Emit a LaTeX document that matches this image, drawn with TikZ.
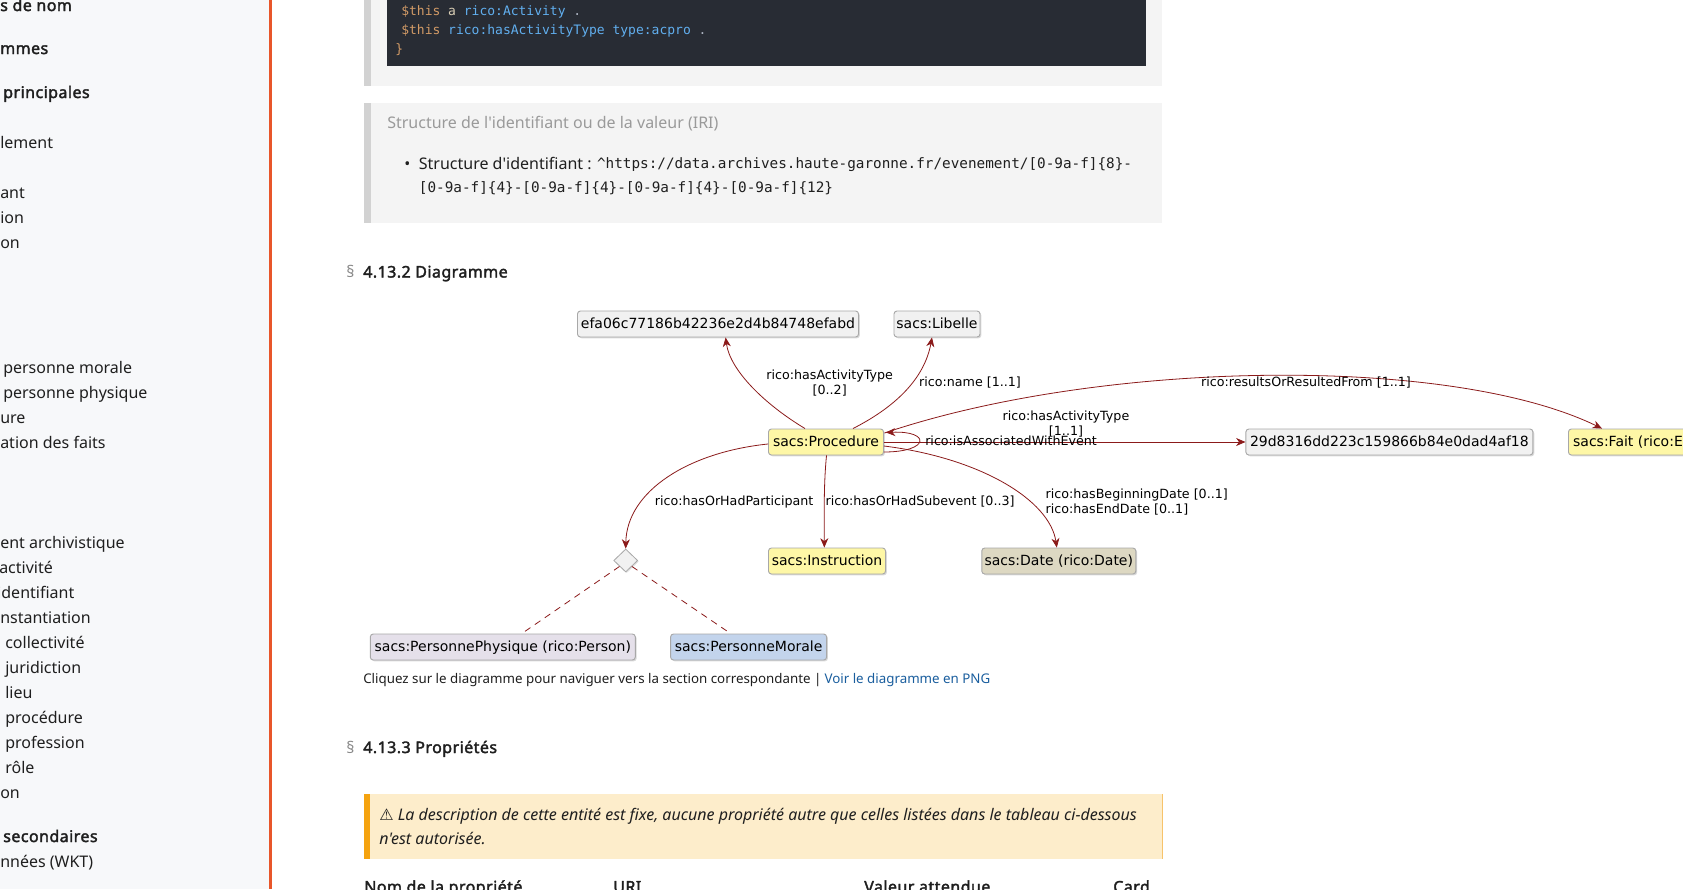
\documentclass[tikz,border=0pt]{standalone}
\usepackage{fontspec}
\setmainfont{Noto Sans}[Ligatures=TeXOff,BoldFont={Noto Sans},BoldFeatures={FakeBold=2.2,LetterSpace=2.8}]
\setmonofont{DejaVu Sans Mono}
\newfontfamily\djv{DejaVu Sans}
\usetikzlibrary{arrows.meta,calc,shapes.geometric,shadows}
\definecolor{sidebg}{HTML}{F7F8FA}
\definecolor{orangeL}{HTML}{E8562A}
\definecolor{boxbg}{HTML}{F4F4F4}
\definecolor{barcol}{HTML}{D2D2D2}
\definecolor{codebg}{HTML}{282C34}
\definecolor{cthis}{HTML}{D19A66}
\definecolor{ckw}{HTML}{D8CDB4}
\definecolor{cblue}{HTML}{61AFEF}
\definecolor{cdot}{HTML}{ABB2BF}
\definecolor{txt}{HTML}{1F1F1F}
\definecolor{graytxt}{HTML}{9A9A9A}
\definecolor{sect}{HTML}{8A8A8A}
\definecolor{linkc}{HTML}{1A5E9E}
\definecolor{warnbg}{HTML}{FDEDCB}
\definecolor{warnbar}{HTML}{F5A30F}
\definecolor{warnline}{HTML}{F7C36B}
\definecolor{nborder}{HTML}{A8A8A8}
\definecolor{gfill}{HTML}{F1F1F1}
\definecolor{yfill}{HTML}{FEF7A6}
\definecolor{dfill}{HTML}{DDD8C2}
\definecolor{pfill}{HTML}{E5E0EA}
\definecolor{mfill}{HTML}{C3D4EC}
\definecolor{edgec}{HTML}{8B1A1A}
\begin{document}
\begin{tikzpicture}[x=0.75pt,y=-0.75pt,
  sidetxt/.style={anchor=base west,inner sep=0,text=txt,font=\fontsize{12}{14}\selectfont},
  sidebold/.style={sidetxt,font=\bfseries\fontsize{12}{14}\selectfont},
  codetxt/.style={anchor=base west,inner sep=0,font=\ttfamily\fontsize{9.75}{12}\selectfont},
  bodytxt/.style={anchor=base west,inner sep=0,text=txt,font=\fontsize{12}{14}\selectfont},
  monotxt/.style={anchor=base west,inner sep=0,text=txt,font=\ttfamily\fontsize{10.75}{13}\selectfont},
  headtxt/.style={anchor=base west,inner sep=0,text=txt,font=\bfseries\fontsize{12}{14}\selectfont},
  secttxt/.style={anchor=base west,inner sep=0,text=sect,font=\fontsize{12}{14}\selectfont},
  captxt/.style={anchor=base west,inner sep=0,text=txt,font=\fontsize{10}{12}\selectfont},
  warntxt/.style={anchor=base west,inner sep=0,text=txt,font=\itshape\fontsize{12}{14}\selectfont},
  umlbox/.style={draw=nborder,line width=0.7pt,rounded corners=2.2pt,inner sep=0,
     minimum height=26*0.75pt,text height=7.9pt,text depth=0.6pt,text=black,
     font=\djv\fontsize{10.5}{12}\selectfont,
     drop shadow={shadow xshift=1pt,shadow yshift=-1pt,opacity=0.15,fill=black}},
  elabel/.style={inner sep=0,text=black,font=\djv\fontsize{9.5}{11.25}\selectfont},
  rel/.style={draw=edgec,line width=0.6pt,-{Stealth[length=7pt,width=6pt,inset=2.2pt]}},
  reldash/.style={draw=edgec,line width=0.6pt,dash pattern=on 5pt off 4pt}
]
\useasboundingbox (0,0) rectangle (1683,889);
\clip (0,0) rectangle (1683,889);
\fill[white] (0,0) rectangle (1683,889);
% sidebar
\fill[sidebg] (0,0) rectangle (269,889);
\fill[orangeL] (269,0) rectangle (271.5,889);
\node[sidebold] (s1) at (0,11) {s de nom};
\node[sidebold] (s2) at (0,54) {mmes};
\node[sidebold] (s3) at (3,98) {principales};
\node[sidetxt] (s4) at (0,148) {lement};
\node[sidetxt] (s5) at (0,198) {ant};
\node[sidetxt] (s6) at (0,223) {ion};
\node[sidetxt] (s7) at (0,248) {on};
\node[sidetxt] (s8) at (3,373) {personne morale};
\node[sidetxt] (s9) at (3,398) {personne physique};
\node[sidetxt] (s10) at (0,423) {ure};
\node[sidetxt] (s11) at (0,448) {ation des faits};
\node[sidetxt] (s12) at (0,548) {ent archivistique};
\node[sidetxt] (s13) at (-1,573) {activité};
\node[sidetxt] (s14) at (-3,598) {identifiant};
\node[sidetxt] (s15) at (0,623) {nstantiation};
\node[sidetxt] (s16) at (5,648) {collectivité};
\node[sidetxt] (s17) at (5,673) {juridiction};
\node[sidetxt] (s18) at (5,698) {lieu};
\node[sidetxt] (s19) at (5,723) {procédure};
\node[sidetxt] (s20) at (5,748) {profession};
\node[sidetxt] (s21) at (5,773) {rôle};
\node[sidetxt] (s22) at (0,798) {on};
\node[sidebold] (s23) at (3,842) {secondaires};
\node[sidetxt] (s24) at (0,867) {nnées (WKT)};
% code box
\fill[boxbg] (364,-1) rectangle (1162,86);
\fill[barcol] (364,-1) rectangle (371,86);
\fill[codebg] (387,-1) rectangle (1146,66);
\node[codetxt] (c1) at (401,15) {\textcolor{cthis}{\$this} \textcolor{ckw}{a} \textcolor{cblue}{rico:Activity} \textcolor{cdot}{.}};
\node[codetxt] (c2) at (401,34) {\textcolor{cthis}{\$this} \textcolor{cblue}{rico:hasActivityType} \textcolor{cblue}{type:acpro} \textcolor{cdot}{.}};
\node[codetxt] (c3) at (395,53.5) {\textcolor{cthis}{\}}};
% IRI box
\fill[boxbg] (364,103) rectangle (1162,223);
\fill[barcol] (364,103) rectangle (371,223);
\node[bodytxt,text=graytxt] (t1) at (387,128.5) {Structure de l'identifiant ou de la valeur (IRI)};
\node[bodytxt] (b1) at (404,169) {•};
\node[bodytxt] (t2) at (418.6,169) {Structure d'identifiant :};
\node[monotxt] (t3) at (596.8,168.5) {\textasciicircum https://data.archives.haute-garonne.fr/evenement/[0-9a-f]\{8\}-};
\node[monotxt] (t4) at (418.6,192.5) {[0-9a-f]\{4\}-[0-9a-f]\{4\}-[0-9a-f]\{4\}-[0-9a-f]\{12\}};
% heading
\node[secttxt] (h1s) at (346,277.5) {§};
\node[headtxt] (h1) at (363,277.5) {4.13.2 Diagramme};
% diagram nodes
\node[umlbox,fill=gfill,minimum width=281*0.75pt] (efa) at (718,324) {efa06c77186b42236e2d4b84748efabd};
\node[umlbox,fill=gfill,minimum width=86*0.75pt] (lib) at (937,324) {sacs:Libelle};
\node[umlbox,fill=yfill,minimum width=115*0.75pt] (proc) at (826,442) {sacs:Procedure};
\node[umlbox,fill=gfill,minimum width=287*0.75pt] (idn) at (1389.4,442) {29d8316dd223c159866b84e0dad4af18};
\node[umlbox,fill=yfill,anchor=west,inner xsep=3.5pt] (fait) at (1568,442) {sacs:Fait (rico:Event)};
\node[umlbox,fill=yfill,minimum width=117*0.75pt] (ins) at (827,561) {sacs:Instruction};
\node[umlbox,fill=dfill,minimum width=154*0.75pt] (date) at (1058.8,561) {sacs:Date (rico:Date)};
\node[umlbox,fill=pfill,minimum width=265*0.75pt] (pp) at (502.8,647) {sacs:PersonnePhysique (rico:Person)};
\node[umlbox,fill=mfill,minimum width=156*0.75pt] (pm) at (748.6,647) {sacs:PersonneMorale};
\node[diamond,draw=nborder,fill=gfill,line width=0.6pt,minimum width=24*0.75pt,minimum height=23*0.75pt,inner sep=0,
  drop shadow={shadow xshift=0.8pt,shadow yshift=-0.8pt,opacity=0.12,fill=black}] (dia) at (625.7,560.5) {};
% edges
\draw[rel] ($(proc.north)+(-21,0)$) .. controls +(-40,-24) and +(4.4,33) .. ($(efa.south)+(7.6,0)$);
\draw[rel] ($(proc.north)+(27,0)$) .. controls +(47,-24) and +(-7,38) .. ($(lib.south)+(-5,0)$);
\draw[rel] ($(proc.east)+(0.5,-9)$) .. controls +(216,-73) and +(-152,-74) .. ($(fait.north west)+(34,0)$);
\draw[rel] ($(proc.east)+(0,10)$) .. controls +(46,0) and +(45,-2) .. ($(proc.east)+(2,-9.5)$);
\draw[rel] (proc.east) -- (idn.west);
\draw[rel] ($(proc.east)+(0,4)$) .. controls +(96.5,12) and +(-7,-47.4) .. ($(date.north)+(-2,0)$);
\draw[rel] ($(proc.south)+(0.5,0)$) .. controls +(-3,30) and +(0,-30) .. ($(ins.north)+(-2.7,0)$);
\draw[rel] ($(proc.west)+(0,2)$) .. controls +(-78.5,8) and +(1,-58) .. (dia.north);
\draw[reldash] (dia.south west) -- ($(pp.north)+(19,0)$);
\draw[reldash] (dia.south east) -- ($(pm.north)+(-18,0)$);
% labels
\node[elabel,align=center] (l1) at (829.7,383) {rico:hasActivityType\\{}[0..2]};
\node[elabel,anchor=base] (l2) at (970,386) {rico:name [1..1]};
\node[elabel,anchor=base] (l3) at (1306,386) {rico:resultsOrResultedFrom [1..1]};
\node[elabel,align=center] (l4) at (1066,424) {rico:hasActivityType\\{}[1..1]};
\node[elabel,anchor=base west] (l5) at (925,445) {rico:isAssociatedWithEvent};
\node[elabel,anchor=base east] (l6) at (813.6,505) {rico:hasOrHadParticipant};
\node[elabel,anchor=base west] (l7) at (825.4,505) {rico:hasOrHadSubevent [0..3]};
\node[elabel,align=left,anchor=west] (l8) at (1045.4,502.5) {rico:hasBeginningDate [0..1]\\rico:hasEndDate [0..1]};
% caption
\node[captxt] (cap) at (363,683.5) {Cliquez sur le diagramme pour naviguer vers la section correspondante |};
\node[captxt,text=linkc] (lnk) at (824.3,683.5) {Voir le diagramme en PNG};
% heading 2
\node[secttxt] (h2s) at (346,753) {§};
\node[headtxt] (h2) at (363,753) {4.13.3 Propriétés};
% warning
\fill[warnbg] (364,794) rectangle (1162,858.6);
\fill[warnbar] (364,794) rectangle (369.5,858.6);
\draw[warnline,line width=0.6pt] (1162,794) -- (1162,858.6);
\node[warntxt] (w1) at (379,820.5) {{\upshape\djv ⚠} La description de cette entité est fixe, aucune propriété autre que celles listées dans le tableau ci-dessous};
\node[warntxt] (w2) at (379,844.5) {n'est autorisée.};
% table header
\node[headtxt] (th1) at (364,892.5) {Nom de la propriété};
\node[headtxt] (th2) at (613,892.5) {URI};
\node[headtxt] (th3) at (864,892.5) {Valeur attendue};
\node[headtxt] (th4) at (1113,892.5) {Card};
\end{tikzpicture}
\end{document}
